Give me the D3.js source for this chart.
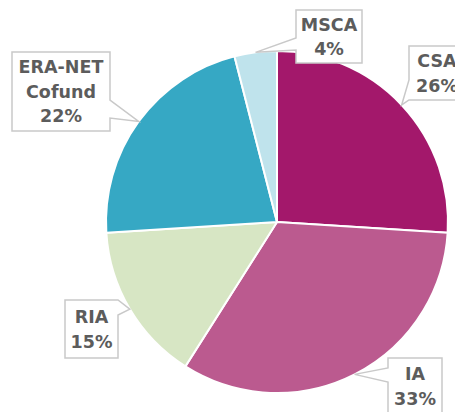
<!DOCTYPE html>
<html>
<head>
<meta charset="utf-8">
<script src="https://cdn.jsdelivr.net/npm/d3@7"></script>
<style>
  body { margin: 0; background: #fff; }
</style>
</head>
<body>
<svg id="chart" width="455" height="412"></svg>
<script>
// data
var categories = ["CSA", "IA", "RIA", "ERA-NET Cofund", "MSCA"];
var shares = [26, 33, 15, 22, 4];
var colors = ["#a3186b", "#bb5a8f", "#d7e6c4", "#36a8c4", "#bfe3ec"];

// callout boxes (layout only), same order as categories
var boxes = [
  { x0: 409, y0: 46, x1: 465, y1: 100, side: "left", b0: 80, b1: 100 },
  { x0: 388, y0: 358, x1: 442, y1: 414, side: "left", b0: 368, b1: 382 },
  { x0: 65, y0: 300, x1: 118, y1: 358, side: "right", b0: 300, b1: 315 },
  { x0: 12, y0: 52, x1: 110, y1: 131, side: "right", b0: 100, b1: 118 },
  { x0: 296, y0: 10, x1: 362, y1: 63, side: "left", b0: 38, b1: 50 }
];

var svg = d3.select("#chart");
var cx = 277, cy = 222, radius = 171;

var data = categories.map(function (c, i) { return { name: c, value: shares[i], color: colors[i] }; });

var pie = d3.pie().sort(null).value(function (d) { return d.value; });
var arcs = pie(data);

var arc = d3.arc().innerRadius(0).outerRadius(radius);
var edge = d3.arc().innerRadius(radius).outerRadius(radius);

var g = svg.append("g").attr("transform", "translate(" + cx + "," + cy + ")");

g.selectAll("path.slice")
  .data(arcs)
  .enter().append("path")
  .attr("class", "slice")
  .attr("d", arc)
  .attr("fill", function (d) { return d.data.color; })
  .attr("stroke", "#fff")
  .attr("stroke-width", 2)
  .attr("stroke-linejoin", "round");

function calloutPath(b, tip) {
  var p = d3.path();
  p.moveTo(b.x0, b.y0);
  p.lineTo(b.x1, b.y0);
  if (b.side == "right") {
    p.lineTo(b.x1, b.b0);
    p.lineTo(tip[0], tip[1]);
    p.lineTo(b.x1, b.b1);
  }
  p.lineTo(b.x1, b.y1);
  p.lineTo(b.x0, b.y1);
  if (b.side == "left") {
    p.lineTo(b.x0, b.b1);
    p.lineTo(tip[0], tip[1]);
    p.lineTo(b.x0, b.b0);
  }
  p.closePath();
  return p.toString();
}

var fontSize = 17.5, lineH = 24.5;

arcs.forEach(function (d, i) {
  var b = boxes[i];
  var c = edge.centroid(d);
  var tip = [c[0] + cx, c[1] + cy];

  svg.append("path")
    .attr("d", calloutPath(b, tip))
    .attr("fill", "#fff")
    .attr("stroke", "#c9c9c9")
    .attr("stroke-width", 1.5)
    .attr("stroke-linejoin", "miter");

  var lines = d.data.name.split(" ").concat([d.data.value + "%"]);
  var mx = (b.x0 + b.x1) / 2, my = (b.y0 + b.y1) / 2;
  var t = svg.append("text")
    .attr("text-anchor", "middle")
    .style("font-family", "'DejaVu Sans', sans-serif")
    .style("font-weight", "bold")
    .style("font-size", fontSize + "px")
    .attr("fill", "#5c5c5c");
  lines.forEach(function (s, k) {
    t.append("tspan")
      .attr("x", mx)
      .attr("y", my + (k - (lines.length - 1) / 2) * lineH + fontSize * 0.36)
      .text(s);
  });
});
</script>
</body>
</html>
